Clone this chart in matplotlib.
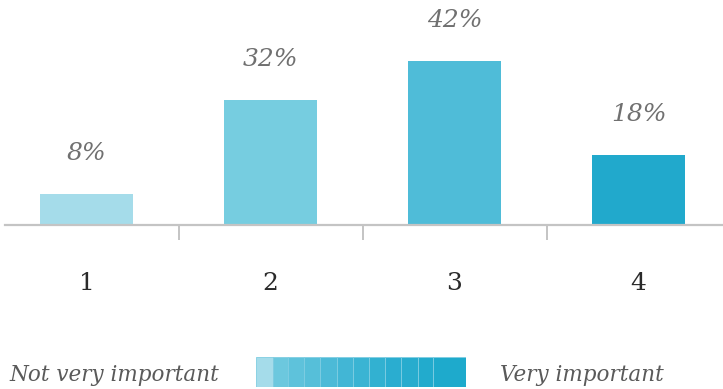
import matplotlib.pyplot as plt
import numpy as np

categories = ['1', '2', '3', '4']
shares = [8, 32, 42, 18]
bar_colors = ['#a5dcea', '#76cde0', '#4fbcd8', '#21a9cc']

scale_colors = ['#a5dcea', '#6cc8de', '#5ec2db', '#56bfd9', '#4cbad7', '#42b6d5',
                '#3ab4d3', '#32b1d1', '#2aadd0', '#27acce', '#22abcd', '#1eaacc']
scale_widths = [16.7, 15, 16.6, 15.7, 16.7, 16, 16.6, 15.7, 16, 16.7, 15.6, 32.7]
scale_labels = ['Not very important', 'Very important']

W, H = 723, 389
fig = plt.figure(figsize=(W / 100, H / 100), dpi=100)

# main bar axes: baseline sits 225px from the top
ax = fig.add_axes([5 / W, (H - 225) / H, 1 - 5 / W, 225 / H])
x = np.arange(len(categories))
ax.bar(x, shares, width=0.505, color=bar_colors)
ax.set_xlim(-0.443, 3.459)
ax.set_ylim(0, 57.6)

for s in ['top', 'right', 'left']:
    ax.spines[s].set_visible(False)
ax.spines['bottom'].set_color('#c4c4c4')
ax.spines['bottom'].set_linewidth(1.6)
ax.set_yticks([])
ax.set_xticks(x)
ax.set_xticklabels([])
ax.tick_params(axis='x', which='major', length=0)
ax.set_xticks(x[:-1] + 0.5, minor=True)
ax.tick_params(axis='x', which='minor', length=11, width=1.4, color='#c4c4c4')

for xi, lab in zip(x, categories):
    ax.text(xi, -0.262, lab, transform=ax.get_xaxis_transform(), ha='center',
            va='center', fontsize=18, color='#2a2a2a', family='DejaVu Serif',
            fontweight='light')

for xi, v in zip(x, shares):
    ax.annotate(f'{v}%', (xi, v), xytext=(0, 29), textcoords='offset points',
                ha='center', va='center', fontsize=18, color='#707070',
                style='italic', family='DejaVu Serif', fontweight='light')

# importance scale legend
lax = fig.add_axes([256 / W, (H - 387) / H, sum(scale_widths) / W, 30 / H])
left = np.concatenate([[0], np.cumsum(scale_widths)[:-1]])
lax.barh(0, scale_widths, left=left, height=1, color=scale_colors,
         edgecolor='#7fcde2', linewidth=0.6)
lax.set_xlim(0, sum(scale_widths))
lax.set_ylim(-0.5, 0.5)
lax.axis('off')

fig.text(9 / W, (H - 375) / H, scale_labels[0], ha='left', va='center',
         fontsize=15.5, color='#5a5a5a', style='italic', family='DejaVu Serif')
fig.text(500 / W, (H - 375) / H, scale_labels[1], ha='left', va='center',
         fontsize=15.5, color='#5a5a5a', style='italic', family='DejaVu Serif')

fig.savefig('out.png', dpi=100)
